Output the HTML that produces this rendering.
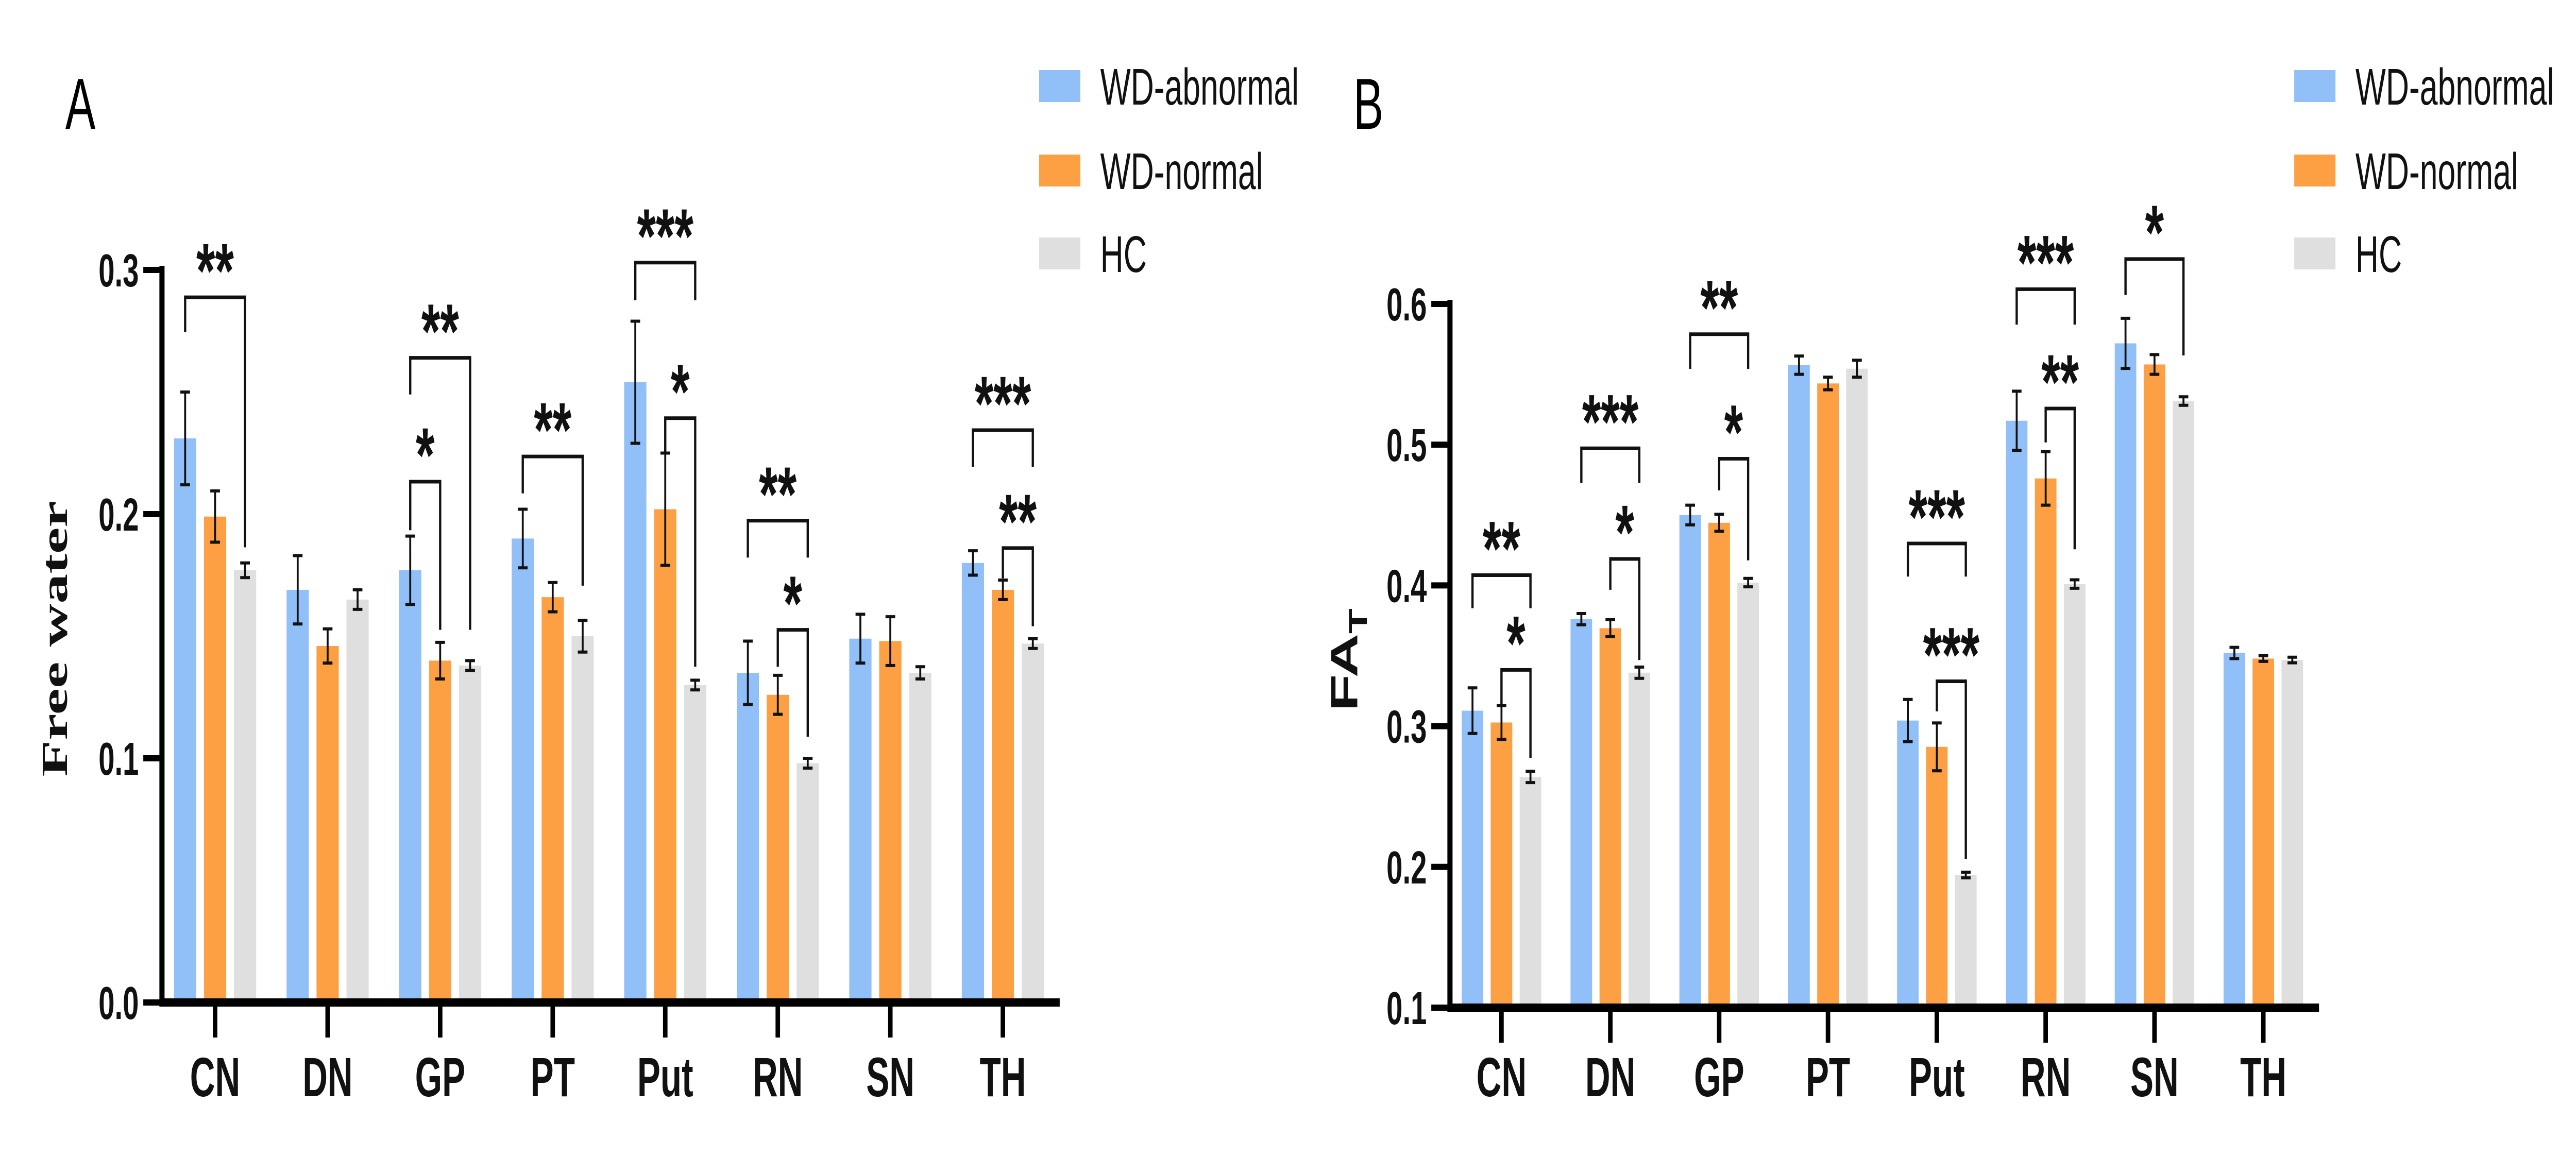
<!DOCTYPE html>
<html><head><meta charset="utf-8"><style>
html,body{margin:0;padding:0;background:#fff;overflow:hidden;width:100%;height:100%;}
svg{display:block;font-family:"Liberation Sans",sans-serif;width:100vw;height:100vh;}
</style></head><body>
<svg id="fig" viewBox="0 0 8000 2244" preserveAspectRatio="none" xmlns="http://www.w3.org/2000/svg"></svg>
<script>
const categories = ["CN","DN","GP","PT","Put","RN","SN","TH"];
const seriesNames = ["WD-abnormal","WD-normal","HC"];
const colors = ["#91bff8","#fca043","#dfdfdf"];
// Panel A: Free water
const fwAbn = [0.231,0.169,0.177,0.190,0.254,0.135,0.149,0.180];
const fwNor = [0.199,0.146,0.140,0.166,0.202,0.126,0.148,0.169];
const fwHC  = [0.177,0.165,0.138,0.150,0.130,0.098,0.135,0.147];
const fwAbnErr = [0.019,0.014,0.014,0.012,0.025,0.013,0.010,0.005];
const fwNorErr = [0.0105,0.007,0.0075,0.006,0.023,0.008,0.010,0.004];
const fwHCErr  = [0.003,0.004,0.002,0.0065,0.002,0.002,0.0025,0.002];
const fwTicks = [0.0,0.1,0.2,0.3];
const fwTickLabels = ["0.0","0.1","0.2","0.3"];
// brackets: [category, fromSeries, toSeries, top, leftEnd, rightEnd, label]
const fwBrackets = [
 [0,0,2,0.2888,0.2746,0.1864,"**"],
 [2,0,1,0.2133,0.1934,0.1526,"*"],
 [2,0,2,0.264,0.249,0.1526,"**"],
 [3,0,2,0.2236,0.2085,0.1707,"**"],
 [4,0,2,0.303,0.2876,0.2876,"***"],
 [4,1,2,0.2393,0.225,0.1375,"*"],
 [5,0,2,0.1973,0.1822,0.1822,"**"],
 [5,1,2,0.1526,0.1375,0.1088,"*"],
 [7,0,2,0.2344,0.2193,0.2193,"***"],
 [7,1,2,0.1861,0.1737,0.1541,"**"]
];
// Panel B: FA_T
const faAbn = [0.311,0.376,0.450,0.5565,0.304,0.517,0.572,0.352];
const faNor = [0.3026,0.3696,0.4445,0.5435,0.2853,0.476,0.557,0.348];
const faHC  = [0.2639,0.338,0.402,0.554,0.1942,0.401,0.531,0.347];
const faAbnErr = [0.0162,0.004,0.007,0.0065,0.015,0.021,0.0178,0.004];
const faNorErr = [0.012,0.006,0.006,0.0045,0.017,0.019,0.007,0.002];
const faHCErr  = [0.004,0.004,0.003,0.006,0.002,0.003,0.003,0.002];
const faTicks = [0.1,0.2,0.3,0.4,0.5,0.6];
const faTickLabels = ["0.1","0.2","0.3","0.4","0.5","0.6"];
const faBrackets = [
 [0,0,2,0.4073,0.3838,0.3838,"**"],
 [0,1,2,0.340,0.3157,0.2775,"*"],
 [1,0,2,0.4974,0.4728,0.4728,"***"],
 [1,1,2,0.4188,0.3969,0.347,"*"],
 [2,0,2,0.5785,0.5539,0.5539,"**"],
 [2,1,2,0.49,0.4675,0.4178,"*"],
 [4,0,2,0.4298,0.4063,0.4063,"***"],
 [4,1,2,0.3319,0.3105,0.2058,"***"],
 [5,0,2,0.6105,0.5853,0.5853,"***"],
 [5,1,2,0.5257,0.5016,0.4257,"**"],
 [6,0,2,0.6319,0.6063,0.5634,"*"]
];

const NS="http://www.w3.org/2000/svg";
const svg=document.getElementById('fig');
function el(tag,attrs,parent){const e=document.createElementNS(NS,tag);for(const k in attrs)e.setAttribute(k,attrs[k]);(parent||svg).appendChild(e);return e;}

function panel(cfg){
  const g=el('g',{});
  
  
  const yS=v=>cfg.y0px-(v-cfg.vmin)/(cfg.vmax-cfg.vmin)*(cfg.y0px-cfg.ytopPx);
  const xC=i=>cfg.cat0+i*cfg.catStep;
  const xB=(i,s)=>xC(i)+(s-1)*cfg.off;
  const vals=[cfg.a,cfg.n,cfg.h], errs=[cfg.ae,cfg.ne,cfg.he];
  for(let s=0;s<3;s++){
    for(let i=0;i<categories.length;i++){
      const v=vals[s][i], x=xB(i,s);
      const r=el('rect',{x:x-cfg.bw/2,y:yS(v),width:cfg.bw,height:cfg.y0px-yS(v),fill:colors[s]},g);
      
      
      const e=errs[s][i];
      const eb=el('path',{d:`M${x} ${yS(v+e)}V${yS(v-e)}M${x-15} ${yS(v+e)}H${x+15}M${x-15} ${yS(v-e)}H${x+15}`,stroke:'#111','stroke-width':6,fill:'none'},g);
      
      
    }
  }
  const ax=el('path',{d:`M${cfg.axX} ${cfg.ytopPx-8}V${cfg.y0px}H${cfg.xEnd}`,stroke:'#000','stroke-width':16,fill:'none'},g);
  
  
  for(let k=0;k<cfg.ticks.length;k++){
    const y=yS(cfg.ticks[k]);
    el('line',{x1:cfg.axX-58,x2:cfg.axX,y1:y,y2:y,stroke:'#000','stroke-width':12},g);
    const t=el('text',{x:cfg.axX-72,y:y+32,'text-anchor':'end','font-size':90,'font-weight':'bold',fill:'#111'},g);
    t.textContent=cfg.tickLabels[k];
    
    
  }
  for(let i=0;i<categories.length;i++){
    el('line',{x1:xC(i),x2:xC(i),y1:cfg.y0px,y2:cfg.y0px+68,stroke:'#000','stroke-width':14},g);
    const t=el('text',{x:xC(i),y:2128,'text-anchor':'middle','font-size':108,'font-weight':'bold',fill:'#111'},g);
    t.textContent=categories[i];
    
    
  }
  for(const b of cfg.br){
    const x1=xB(b[0],b[1]), x2=xB(b[0],b[2]);
    const p=el('path',{d:`M${x1} ${yS(b[4])}V${yS(b[3])}H${x2}V${yS(b[5])}`,stroke:'#111','stroke-width':7,fill:'none'},g);
    
    
    const t=el('text',{x:(x1+x2)/2,y:yS(b[3]),'text-anchor':'middle','font-size':150,'font-weight':'bold',fill:'#111'},g);
    t.textContent=b[6];
    
    
  }
  const L=el('text',{x:cfg.axX-300,y:250,'font-size':140,fill:'#000'},g);
  L.textContent=cfg.letter;
  
  
  for(let s=0;s<3;s++){
    const y=[136,300,461][s];
    const r=el('rect',{x:cfg.legX,y:y,width:128,height:62,fill:colors[s]},g);
    
    
    const t=el('text',{x:cfg.legX+190,y:y+67,'font-size':100,fill:'#111'},g);
    t.textContent=seriesNames[s];
    
    
  }
  return g;
}

panel({name:'panel-a',letter:'A',a:fwAbn,n:fwNor,h:fwHC,ae:fwAbnErr,ne:fwNorErr,he:fwHCErr,
  ticks:fwTicks,tickLabels:fwTickLabels,vmin:0,vmax:0.3,y0px:1946,ytopPx:524,axX:503,xEnd:3291,
  cat0:668,catStep:349.5,off:93,bw:69,br:fwBrackets,legX:3227});
panel({name:'panel-b',letter:'B',a:faAbn,n:faNor,h:faHC,ae:faAbnErr,ne:faNorErr,he:faHCErr,
  ticks:faTicks,tickLabels:faTickLabels,vmin:0.1,vmax:0.6,y0px:1956,ytopPx:590,axX:4503,xEnd:7202,
  cat0:4663,catStep:338,off:90,bw:67,br:faBrackets,legX:7125});

const ta=el('text',{x:0,y:0,transform:'translate(208,1240) rotate(-90)','text-anchor':'middle','font-size':116,'font-weight':'bold','font-family':'"Liberation Serif",serif',fill:'#111'});
ta.textContent='Free water';


const tb=el('text',{x:0,y:0,transform:'translate(4215,1281) rotate(-90)','text-anchor':'middle','font-size':118,'font-weight':'bold',fill:'#111'});


const t1=el('tspan',{},tb);t1.textContent='FA';
const t2=el('tspan',{'font-size':80,dy:30},tb);t2.textContent='T';
</script>
</body></html>
